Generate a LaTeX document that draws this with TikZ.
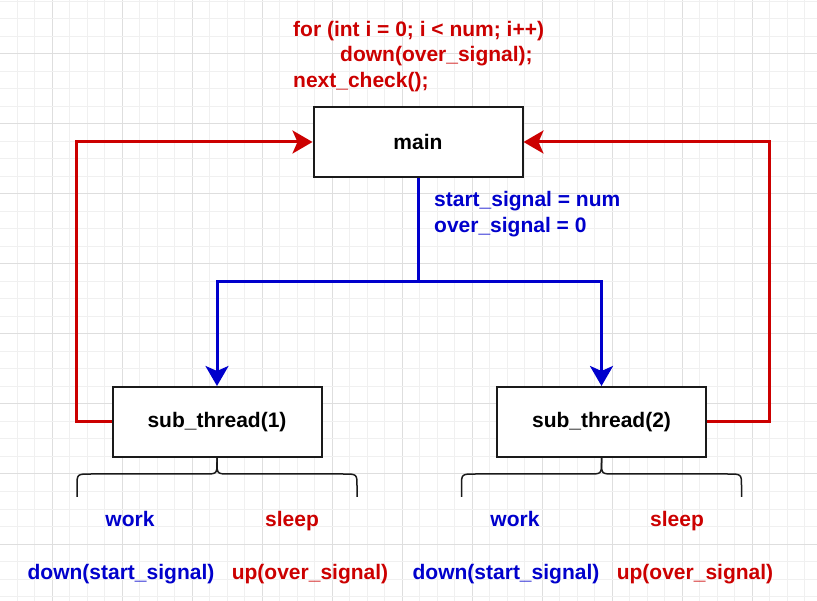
\documentclass[tikz,border=0pt]{standalone}
\usepackage{fontspec}
\setmainfont{Liberation Sans}
\usetikzlibrary{arrows.meta}
\definecolor{cred}{HTML}{CC0000}
\definecolor{cblue}{HTML}{0000CC}
\definecolor{gridminor}{HTML}{F0F0F0}
\definecolor{gridmajor}{HTML}{DEDEDE}
\definecolor{boxline}{HTML}{1A1A1A}
\tikzset{
  txt/.style={font=\fontsize{21}{25}\selectfont\bfseries, inner sep=0pt},
  box/.style={draw=boxline, line width=2pt, fill=white, minimum width=209pt, minimum height=70pt, inner sep=0pt, font=\fontsize{21}{25}\selectfont\bfseries},
  redline/.style={draw=cred, line width=3pt, -{Stealth[length=20pt, width=23pt, inset=5pt]}},
  blueline/.style={draw=cblue, line width=3pt},
  bluearrow/.style={blueline, -{Stealth[length=20pt, width=23pt, inset=5pt]}},
  bracepath/.style={draw=boxline, line width=1.5pt},
}
\begin{document}
\begin{tikzpicture}[x=1pt,y=-1pt]
\useasboundingbox (0,0) rectangle (817,601);
\fill[white] (0,0) rectangle (817,601);
% grid
\foreach \k in {-2,...,43} {
  \pgfmathsetmacro{\gx}{52+17.5*\k}
  \pgfmathtruncatemacro{\md}{mod(\k+8,4)}
  \ifnum\md=0
    \draw[gridmajor, line width=1pt] (\gx,0) -- (\gx,601);
  \else
    \draw[gridminor, line width=1pt] (\gx,0) -- (\gx,601);
  \fi
}
\foreach \k in {-3,...,31} {
  \pgfmathsetmacro{\gy}{54+17.5*\k}
  \pgfmathtruncatemacro{\md}{mod(\k+8,4)}
  \ifnum\md=0
    \draw[gridmajor, line width=1pt] (0,\gy) -- (817,\gy);
  \else
    \draw[gridminor, line width=1pt] (0,\gy) -- (817,\gy);
  \fi
}
% code text
\node[txt, text=cred, anchor=base west] (code1) at (293,37) {for (int i = 0; i < num; i++)};
\node[txt, text=cred, anchor=base west] (code2) at (340,62) {down(over\_signal);};
\node[txt, text=cred, anchor=base west] (code3) at (293,88) {next\_check();};
% boxes
\node[box] (main) at (418,142) {\raisebox{-1.5pt}{main}};
\node[box] (sub1) at (217,422) {\raisebox{-1.5pt}{sub\_thread(1)}};
\node[box] (sub2) at (601.5,422) {\raisebox{-1.5pt}{sub\_thread(2)}};
% signal labels
\node[txt, text=cblue, anchor=base west] (lab1) at (434,207) {start\_signal = num};
\node[txt, text=cblue, anchor=base west] (lab2) at (434,233) {over\_signal = 0};
% red feedback arrows
\draw[redline] (sub1.west) -- ++(-35,0) |- (main.west);
\draw[redline] (sub2.east) -- ++(62,0) |- (main.east);
% blue split
\coordinate (split) at (418,282);
\draw[blueline] (main.south) -- (split);
\draw[bluearrow] (split) -| (sub1.north);
\draw[bluearrow] (split) -| (sub2.north);
% braces
\foreach \n in {sub1,sub2} {
  \draw[bracepath] ([shift={(-140,39)}]\n.south) -- ([shift={(-140,28)}]\n.south)
    .. controls ([shift={(-140,16)}]\n.south) .. ([shift={(-126,16)}]\n.south)
    -- ([shift={(-13,16)}]\n.south)
    .. controls ([shift={(0,16)}]\n.south) .. ([shift={(0,4)}]\n.south)
    -- (\n.south);
  \draw[bracepath] (\n.south) -- ([shift={(0,4)}]\n.south)
    .. controls ([shift={(0,16)}]\n.south) .. ([shift={(13,16)}]\n.south)
    -- ([shift={(126,16)}]\n.south)
    .. controls ([shift={(140,16)}]\n.south) .. ([shift={(140,28)}]\n.south)
    -- ([shift={(140,39)}]\n.south);
}
% lower labels
\node[txt, text=cblue, anchor=base] (work1) at (130,526) {work};
\node[txt, text=cred, anchor=base] (sleep1) at (292,526) {sleep};
\node[txt, text=cblue, anchor=base] (work2) at (515,526) {work};
\node[txt, text=cred, anchor=base] (sleep2) at (677,526) {sleep};
\node[txt, text=cblue, anchor=base] (act1) at (121,579) {down(start\_signal)};
\node[txt, text=cred, anchor=base] (act2) at (310,579) {up(over\_signal)};
\node[txt, text=cblue, anchor=base] (act3) at (506,579) {down(start\_signal)};
\node[txt, text=cred, anchor=base] (act4) at (695,579) {up(over\_signal)};
\end{tikzpicture}
\end{document}
